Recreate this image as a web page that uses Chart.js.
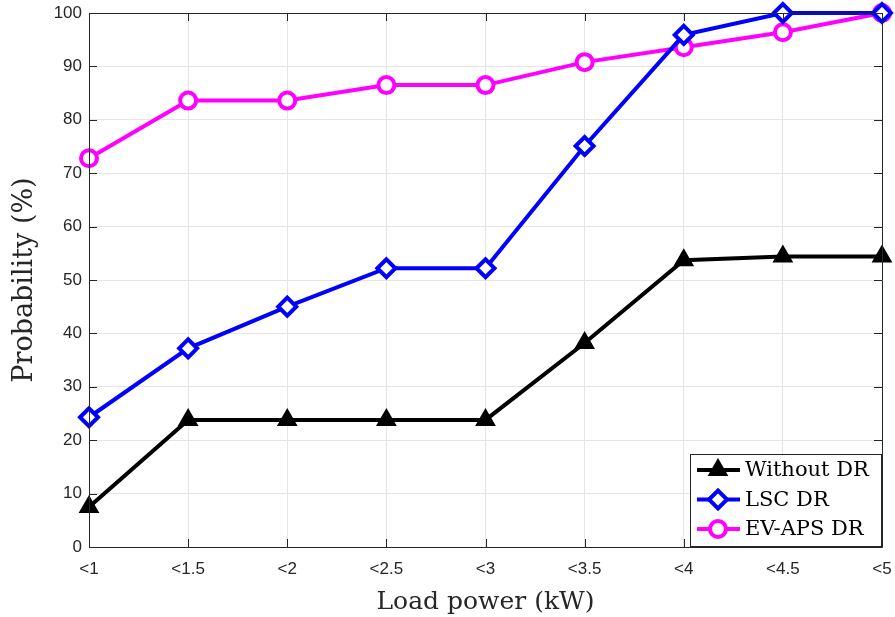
<!DOCTYPE html>
<html>
<head>
<meta charset="utf-8">
<script src="https://cdn.jsdelivr.net/npm/chart.js@4/dist/chart.umd.min.js"></script>
<style>
  html, body { margin: 0; padding: 0; background: #fff; }
  #wrap { width: 895px; height: 617px; }
</style>
</head>
<body>
<div id="wrap"><canvas id="probChart" width="895" height="617"></canvas></div>
<script>
// Categorie asse x
const categorie = ["<1", "<1.5", "<2", "<2.5", "<3", "<3.5", "<4", "<4.5", "<5"];

// Serie
const senzaDR = [7.5, 23.8, 23.8, 23.8, 23.8, 38.2, 53.7, 54.4, 54.4];
const lscDR = [24.3, 37.2, 45.0, 52.2, 52.2, 75.1, 95.9, 100, 100];
const evapsDR = [72.8, 83.6, 83.6, 86.5, 86.5, 90.8, 93.6, 96.4, 100];

// Tick asse y
const tickY = [0, 10, 20, 30, 40, 50, 60, 70, 80, 90, 100];

const AX = "#262626";
const SERIF = "'DejaVu Serif', 'Liberation Serif', serif";

// Cornice, tacche interne e legenda stile MATLAB
const cornice = {
  id: "cornice",
  afterDraw(chart) {
    const { ctx, chartArea: a, scales } = chart;
    ctx.save();
    ctx.strokeStyle = AX;
    ctx.lineWidth = 1;
    ctx.beginPath();
    ctx.rect(Math.round(a.left) + 0.5, Math.round(a.top) + 0.5,
      Math.round(a.right - a.left), Math.round(a.bottom - a.top));
    ctx.stroke();
    const L = 8;
    ctx.beginPath();
    categorie.forEach((c, i) => {
      const x = Math.round(scales.x.getPixelForValue(i)) + 0.5;
      ctx.moveTo(x, a.bottom); ctx.lineTo(x, a.bottom - L);
      ctx.moveTo(x, a.top); ctx.lineTo(x, a.top + L);
    });
    tickY.forEach((v) => {
      const y = Math.round(scales.y.getPixelForValue(v)) + 0.5;
      ctx.moveTo(a.left, y); ctx.lineTo(a.left + L, y);
      ctx.moveTo(a.right, y); ctx.lineTo(a.right - L, y);
    });
    ctx.stroke();

    // Legenda
    const bx = 690, by = 454, bw = 191, bh = 92;
    ctx.fillStyle = "#fff";
    ctx.fillRect(bx, by, bw, bh);
    ctx.strokeStyle = AX;
    ctx.strokeRect(bx + 0.5, by + 0.5, bw, bh);
    ctx.font = "21px " + SERIF;
    ctx.textBaseline = "middle";
    chart.data.datasets.forEach((ds, i) => {
      const y = by + 16 + i * 29.5;
      ctx.strokeStyle = ds.borderColor;
      ctx.lineWidth = 4;
      ctx.beginPath();
      ctx.moveTo(bx + 7, y); ctx.lineTo(bx + 50, y);
      ctx.stroke();
      ctx.fillStyle = ds.pointBackgroundColor;
      ctx.strokeStyle = ds.borderColor;
      ctx.lineWidth = ds.pointBorderWidth;
      Chart.helpers.drawPoint(ctx, {
        pointStyle: ds.pointStyle, radius: ds.pointRadius, rotation: 0,
        borderWidth: ds.pointBorderWidth,
      }, bx + 28, y);
      ctx.fillStyle = "#000";
      ctx.fillText(ds.label, bx + 55, y + 1);
    });
    ctx.restore();
  },
};

const ctx = document.getElementById("probChart");

new Chart(ctx, {
  type: "line",
  data: {
    labels: categorie,
    datasets: [
      {
        label: "Without DR",
        data: senzaDR,
        borderColor: "#000000",
        pointBackgroundColor: "#000000",
        pointStyle: "triangle",
        pointRadius: 10,
        pointBorderWidth: 2,
        borderWidth: 4,
      },
      {
        label: "LSC DR",
        data: lscDR,
        borderColor: "#0000ff",
        pointBackgroundColor: "#ffffff",
        pointStyle: "rectRot",
        pointRadius: 9,
        pointBorderWidth: 4,
        borderWidth: 4,
      },
      {
        label: "EV-APS DR",
        data: evapsDR,
        borderColor: "#ff00ff",
        pointBackgroundColor: "#ffffff",
        pointStyle: "circle",
        pointRadius: 8,
        pointBorderWidth: 4,
        borderWidth: 4,
      },
    ],
  },
  options: {
    responsive: false,
    animation: false,
    layout: { padding: { top: 13, right: 11, left: 0, bottom: 0 } },
    elements: { line: { tension: 0 } },
    datasets: { line: { clip: false } },
    plugins: {
      legend: { display: false },
      tooltip: { enabled: false },
    },
    scales: {
      x: {
        offset: false,
        grid: { color: "#e5e5e5", drawTicks: false, offset: false },
        border: { display: false },
        ticks: {
          color: AX, padding: 12, maxRotation: 0, autoSkip: false,
          font: { family: "'Liberation Sans', Arial, sans-serif", size: 17 },
        },
        title: {
          display: true, text: "Load power (kW)", color: AX, padding: { top: 2, bottom: 0 },
          font: { family: SERIF, size: 25 },
        },
        afterFit: (s) => { s.height = 70; s.paddingLeft = 0; s.paddingRight = 0; },
      },
      y: {
        min: 0, max: 100,
        grid: { color: "#e5e5e5", drawTicks: false },
        border: { display: false },
        ticks: {
          color: AX, padding: 7, stepSize: 10,
          font: { family: "'Liberation Sans', Arial, sans-serif", size: 17 },
        },
        title: {
          display: true, text: "Probability (%)", color: AX, padding: { top: 9, bottom: 0 },
          font: { family: SERIF, size: 27 },
        },
        afterFit: (s) => { s.width = 89; s.paddingTop = 0; s.paddingBottom = 0; },
      },
    },
  },
  plugins: [cornice],
});
</script>
</body>
</html>
